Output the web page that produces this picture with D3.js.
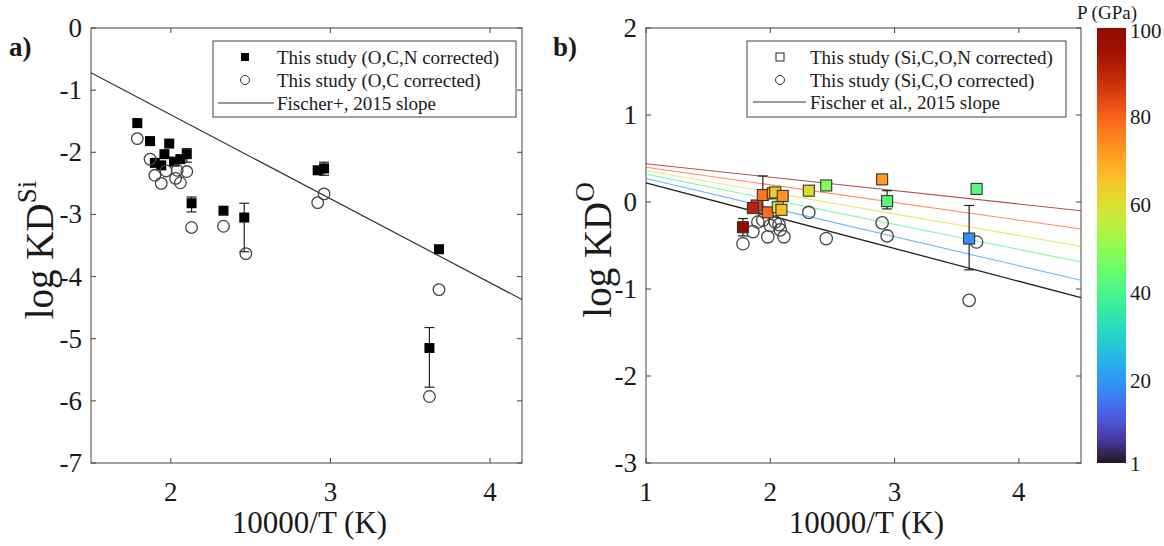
<!DOCTYPE html>
<html><head><meta charset="utf-8">
<script src="https://cdn.jsdelivr.net/npm/d3@7"></script>
<style>
body{margin:0;background:#fff}
svg, svg text{font-family:"Liberation Serif","Times New Roman",serif}
</style>
</head><body>
<svg id="c" width="1164" height="546"></svg>
<script>
// ---------------- DATA ----------------
// Panel a)
const aXTicks = [2, 3, 4];
const aYTicks = [0, -1, -2, -3, -4, -5, -6, -7];
const aSqX = [1.79, 1.87, 1.99, 1.96, 1.90, 1.94, 2.02, 2.06, 2.10, 2.13, 2.33, 2.46, 2.92, 2.96, 3.68, 3.62];
const aSqY = [-1.53, -1.82, -1.86, -2.03, -2.17, -2.21, -2.15, -2.11, -2.03, -2.82, -2.94, -3.05, -2.29, -2.26, -3.56, -5.15];
const aCiX = [1.79, 1.87, 1.90, 1.94, 1.97, 2.03, 2.06, 2.10, 2.04, 2.13, 2.33, 2.47, 2.92, 2.96, 3.68, 3.62];
const aCiY = [-1.78, -2.11, -2.37, -2.50, -2.30, -2.42, -2.49, -2.31, -2.29, -3.21, -3.19, -3.63, -2.81, -2.67, -4.21, -5.93];
const aErrX  = [2.13, 2.46, 3.62, 2.10, 2.96];
const aErrLo = [-2.96, -3.60, -5.78, -2.16, -2.37];
const aErrHi = [-2.72, -2.82, -4.82, -1.94, -2.16];
const aFitX = [1.5, 4.2];
const aFitY = [-0.72, -4.37];
const aLegend = ["This study (O,C,N corrected)", "This study (O,C corrected)", "Fischer+, 2015 slope"];

// Panel b)
const bXTicks = [1, 2, 3, 4];
const bYTicks = [2, 1, 0, -1, -2, -3];
const bSqX = [1.78, 1.89, 1.86, 1.94, 1.98, 2.02, 2.04, 2.10, 2.06, 2.09, 2.31, 2.45, 2.90, 2.94, 3.66, 3.60];
const bSqY = [-0.29, -0.04, -0.07, 0.08, -0.12, 0.10, 0.11, 0.07, -0.06, -0.09, 0.13, 0.19, 0.26, 0.01, 0.15, -0.42];
const bSqP = [98, 84, 90, 77, 78, 72, 63, 73, 59, 67, 61, 48, 72, 42, 42, 19];
const bCiX = [1.78, 1.86, 1.90, 1.94, 1.98, 2.00, 2.04, 2.07, 2.08, 2.11, 2.31, 2.45, 2.90, 2.94, 3.66, 3.60];
const bCiY = [-0.48, -0.34, -0.23, -0.21, -0.40, -0.27, -0.23, -0.26, -0.32, -0.40, -0.12, -0.42, -0.24, -0.39, -0.46, -1.13];
const bErrX  = [1.78, 1.94, 2.94, 3.60];
const bErrLo = [-0.39, -0.14, -0.08, -0.78];
const bErrHi = [-0.19, 0.30, 0.13, -0.04];
const bFitP  = [0, 20, 40, 60, 80, 100];
const bFitX  = [1, 4.5];
const bFitY0 = [0.22, 0.27, 0.32, 0.36, 0.40, 0.44];
const bFitY1 = [-1.10, -0.90, -0.69, -0.51, -0.31, -0.10];
const bLegend = ["This study (Si,C,O,N corrected)", "This study (Si,C,O corrected)", "Fischer et al., 2015 slope"];
const cbTicks = [1, 20, 40, 60, 80, 100];

// ---------------- DRAW ----------------
const FONT = "Liberation Serif, Times New Roman, serif";
const svg = d3.select("#c");
const TOP = 28, BOT = 463;
const axisCol = "#444";
const color = d3.scaleSequential(d3.interpolateTurbo).domain([1, 100]);

function txt(g) { return g.append("text").attr("font-family", FONT).attr("fill", "#1a1a1a"); }

function frame(g, x, y, xt, yt) {
  const [x0, x1] = x.range(), [y1, y0] = y.range();
  g.append("rect").attr("x", x0).attr("y", y0).attr("width", x1 - x0).attr("height", y1 - y0)
    .attr("fill", "none").attr("stroke", axisCol).attr("stroke-width", 1);
  const tl = 5;
  xt.forEach(v => {
    const px = x(v);
    g.append("line").attr("x1", px).attr("x2", px).attr("y1", y1).attr("y2", y1 - tl).attr("stroke", axisCol);
    g.append("line").attr("x1", px).attr("x2", px).attr("y1", y0).attr("y2", y0 + tl).attr("stroke", axisCol);
    txt(g).attr("x", px).attr("y", y1 + 38).attr("text-anchor", "middle").attr("font-size", 27).text(v);
  });
  yt.forEach(v => {
    const py = y(v);
    g.append("line").attr("x1", x0).attr("x2", x0 + tl).attr("y1", py).attr("y2", py).attr("stroke", axisCol);
    g.append("line").attr("x1", x1).attr("x2", x1 - tl).attr("y1", py).attr("y2", py).attr("stroke", axisCol);
    txt(g).attr("x", x0 - 9).attr("y", py + 9).attr("text-anchor", "end").attr("font-size", 27).text(v);
  });
  txt(g).attr("x", (x0 + x1) / 2 + 3).attr("y", y1 + 70).attr("text-anchor", "middle")
    .attr("font-size", 31).text("10000/T (K)");
}

function errBars(g, x, y, ex, lo, hi) {
  ex.forEach((v, i) => {
    const px = x(v);
    g.append("line").attr("x1", px).attr("x2", px).attr("y1", y(lo[i])).attr("y2", y(hi[i]))
      .attr("stroke", "#222").attr("stroke-width", 1.2);
    [lo[i], hi[i]].forEach(e => g.append("line").attr("x1", px - 5).attr("x2", px + 5)
      .attr("y1", y(e)).attr("y2", y(e)).attr("stroke", "#222").attr("stroke-width", 1.2));
  });
}

function ylabel(g, x, y, sup) {
  const t = txt(g).attr("transform", `translate(${x},${y}) rotate(-90)`)
    .attr("text-anchor", "middle").attr("font-size", 39);
  t.append("tspan").text("log KD");
  t.append("tspan").attr("font-size", 27).attr("dy", -17).text(sup);
}

// ---- Panel a
{
  const g = svg.append("g");
  const x = d3.scaleLinear().domain([1.5, 4.2]).range([91, 522]);
  const y = d3.scaleLinear().domain([-7, 0]).range([BOT, TOP]);
  frame(g, x, y, aXTicks, aYTicks);
  g.append("line").attr("x1", x(aFitX[0])).attr("y1", y(aFitY[0])).attr("x2", x(aFitX[1])).attr("y2", y(aFitY[1]))
    .attr("stroke", "#333").attr("stroke-width", 1.2);
  errBars(g, x, y, aErrX, aErrLo, aErrHi);
  const s = 10;
  g.selectAll(".sq").data(aSqX).join("rect")
    .attr("x", (d) => x(d) - s / 2).attr("y", (d, i) => y(aSqY[i]) - s / 2)
    .attr("width", s).attr("height", s).attr("fill", "#000");
  g.selectAll(".ci").data(aCiX).join("circle")
    .attr("cx", d => x(d)).attr("cy", (d, i) => y(aCiY[i])).attr("r", 5.8)
    .attr("fill", "none").attr("stroke", "#444").attr("stroke-width", 1.3);
  ylabel(g, 53, 250, "Si");
  txt(g).attr("x", 9).attr("y", 56).attr("font-size", 27).attr("font-weight", "bold").text("a)");
  // legend
  g.append("rect").attr("x", 213).attr("y", 41).attr("width", 303).attr("height", 76)
    .attr("fill", "#fff").attr("stroke", axisCol);
  const ly = [57, 80, 103];
  g.append("rect").attr("x", 241).attr("y", ly[0] - 4).attr("width", 8).attr("height", 8).attr("fill", "#000");
  g.append("circle").attr("cx", 245).attr("cy", ly[1]).attr("r", 4.5).attr("fill", "none").attr("stroke", "#333");
  g.append("line").attr("x1", 218).attr("x2", 274).attr("y1", ly[2]).attr("y2", ly[2]).attr("stroke", "#333");
  aLegend.forEach((t, i) => txt(g).attr("x", 277).attr("y", ly[i] + 6.5).attr("font-size", 19).text(t));
}

// ---- Panel b
{
  const g = svg.append("g");
  const x = d3.scaleLinear().domain([1, 4.5]).range([646, 1081]);
  const y = d3.scaleLinear().domain([-3, 2]).range([BOT, TOP]);
  frame(g, x, y, bXTicks, bYTicks);
  bFitP.forEach((p, i) => {
    g.append("line").attr("x1", x(bFitX[0])).attr("y1", y(bFitY0[i])).attr("x2", x(bFitX[1])).attr("y2", y(bFitY1[i]))
      .attr("stroke", p === 0 ? "#222" : color(p)).attr("stroke-width", p === 0 ? 1.3 : 1.1)
      .attr("stroke-opacity", p === 0 ? 1 : 0.7);
  });
  errBars(g, x, y, bErrX, bErrLo, bErrHi);
  g.selectAll(".ci").data(bCiX).join("circle")
    .attr("cx", d => x(d)).attr("cy", (d, i) => y(bCiY[i])).attr("r", 6.2)
    .attr("fill", "none").attr("stroke", "#444").attr("stroke-width", 1.3);
  const s = 11;
  g.selectAll(".sq").data(bSqX).join("rect")
    .attr("x", d => x(d) - s / 2).attr("y", (d, i) => y(bSqY[i]) - s / 2)
    .attr("width", s).attr("height", s).attr("fill", (d, i) => color(bSqP[i]))
    .attr("stroke", "#333").attr("stroke-width", 1.1);
  ylabel(g, 611, 250, "O");
  txt(g).attr("x", 553).attr("y", 56).attr("font-size", 27).attr("font-weight", "bold").text("b)");
  // legend
  g.append("rect").attr("x", 747).attr("y", 41).attr("width", 319).attr("height", 76)
    .attr("fill", "#fff").attr("stroke", axisCol);
  const ly = [57, 80, 102];
  g.append("rect").attr("x", 776).attr("y", ly[0] - 4).attr("width", 8).attr("height", 8).attr("fill", "#fff").attr("stroke", "#222");
  g.append("circle").attr("cx", 780).attr("cy", ly[1]).attr("r", 4.5).attr("fill", "none").attr("stroke", "#333");
  g.append("line").attr("x1", 753).attr("x2", 806).attr("y1", ly[2]).attr("y2", ly[2]).attr("stroke", "#333");
  bLegend.forEach((t, i) => txt(g).attr("x", 810).attr("y", ly[i] + 6.5).attr("font-size", 19).text(t));

  // colorbar
  const cy = d3.scaleLinear().domain([1, 100]).range([BOT, TOP]);
  const defs = svg.append("defs");
  const grad = defs.append("linearGradient").attr("id", "cb").attr("x1", 0).attr("x2", 0).attr("y1", 1).attr("y2", 0);
  d3.range(0, 1.0001, 0.05).forEach(t => grad.append("stop").attr("offset", t).attr("stop-color", d3.interpolateTurbo(t)));
  svg.append("rect").attr("x", 1097).attr("y", TOP).attr("width", 29).attr("height", BOT - TOP).attr("fill", "url(#cb)");
  cbTicks.forEach(v => txt(svg).attr("x", 1130).attr("y", cy(v) + (v === 100 ? 10 : 8)).attr("font-size", 21).text(v));
  txt(svg).attr("x", 1107).attr("y", 19).attr("text-anchor", "middle").attr("font-size", 19).text("P (GPa)");
}
</script>
</body></html>
